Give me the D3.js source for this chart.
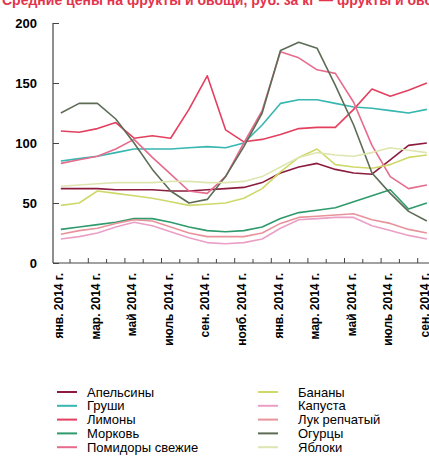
<!DOCTYPE html>
<html><head><meta charset="utf-8">
<script src="https://cdn.jsdelivr.net/npm/d3@7"></script>
<style>body{margin:0;background:#fff;overflow:hidden}svg{display:block}</style>
</head><body>
<script>
const monthLabels = ["янв. 2014 г.","фев. 2014 г.","мар. 2014 г.","апр. 2014 г.","май 2014 г.","июнь 2014 г.","июль 2014 г.","авг. 2014 г.","сен. 2014 г.","окт. 2014 г.","нояб. 2014 г.","дек. 2014 г.","янв. 2014 г.","фев. 2014 г.","мар. 2014 г.","апр. 2014 г.","май 2014 г.","июнь 2014 г.","июль 2014 г.","авг. 2014 г.","сен. 2014 г."];
const yTicks = [0, 50, 100, 150, 200];
const seriesNames = ["Апельсины","Груши","Лимоны","Морковь","Помидоры свежие","Бананы","Капуста","Лук репчатый","Огурцы","Яблоки"];
const colors = ["#8c1c3e","#36b7b0","#e3405f","#2f9a6c","#e66b8c","#cfd86a","#eaa0c6","#e8939b","#5d6d55","#dde6b0"];
const apelsiny = [62,62,62,61,61,61,60,60,61,62,63,67,75,80,83,78,75,74,86,98,100];
const grushi   = [85,87,89,92,95,95,95,96,97,96,100,115,133,136,136,133,130,129,127,125,128];
const limony   = [110,109,112,117,104,106,104,128,156,111,101,103,107,112,113,113,128,145,139,144,150];
const morkov   = [28,30,32,34,37,37,34,30,27,26,27,30,37,42,44,46,51,56,61,45,50];
const pomidory = [83,86,89,95,103,88,74,60,58,72,100,127,176,171,161,158,134,98,72,62,65];
const banany   = [48,50,60,58,56,54,51,48,49,50,54,62,76,88,95,82,80,79,82,88,90];
const kapusta  = [20,22,25,30,34,31,26,21,17,16,17,20,29,36,37,38,38,31,27,23,20];
const luk      = [24,27,29,33,36,35,30,25,22,22,22,25,33,38,39,40,41,36,33,28,25];
const ogurcy   = [125,133,133,120,100,78,60,50,53,72,97,125,177,184,179,148,115,75,58,43,35];
const yabloki  = [64,65,66,67,67,67,68,68,67,67,68,72,80,88,92,90,89,92,96,94,92];
const seriesValues = [apelsiny,grushi,limony,morkov,pomidory,banany,kapusta,luk,ogurcy,yabloki];

const W = 429, H = 465;
const svg = d3.select("body").append("svg").attr("width", W).attr("height", H)
  .style("font-family", "'Liberation Sans', Arial, sans-serif");

const idx = d3.range(monthLabels.length);
const step = 18.3, x0 = 51.7;
const x = d3.scaleBand().domain(idx).range([x0, x0 + step * idx.length]).paddingInner(0).paddingOuter(0);
const y = d3.scaleLinear().domain([0, 200]).range([263, 23]);
const cx = i => x(i) + x.bandwidth() / 2;

// title (cut off at top, as in the reference)
svg.append("text").attr("x", 2).attr("y", 5).attr("fill", "#e3344c")
  .attr("font-size", 14).attr("font-weight", "bold")
  .text("Средние цены на фрукты и овощи, руб. за кг — фрукты и овощи");

// y axis
const yAxis = svg.append("g").attr("transform", "translate(53,0)")
  .call(d3.axisLeft(y).tickValues(yTicks).tickSize(-6).tickPadding(16).tickFormat(d3.format("d")));
yAxis.select(".domain").attr("stroke", "#444").attr("stroke-width", 1.2).attr("d", `M0,${y(200)}V${y(0)}`);
yAxis.selectAll(".tick line").attr("stroke", "#444");
yAxis.selectAll("text").attr("font-size", 13).attr("font-weight", "bold").attr("fill", "#000");

// x axis line
svg.append("line").attr("x1", 53).attr("x2", W).attr("y1", y(0)).attr("y2", y(0))
  .attr("stroke", "#444").attr("stroke-width", 1.2);
// ticks at band boundaries
svg.append("g").selectAll("line").data(idx.slice(1)).join("line")
  .attr("x1", d => x(d)).attr("x2", d => x(d))
  .attr("y1", y(0)).attr("y2", (d) => y(0) - (d % 2 === 0 ? 5 : 4))
  .attr("stroke", "#444");
// labels every 2 months
svg.append("g").selectAll("text").data(idx.filter(i => i % 2 === 0)).join("text")
  .attr("transform", d => `translate(${cx(d) - 2},273) rotate(-90)`)
  .attr("text-anchor", "end").attr("dy", "0.35em")
  .attr("font-size", 12).attr("font-weight", "bold").attr("fill", "#000")
  .text(d => monthLabels[d]);

// lines
const line = d3.line().x((d, i) => cx(i)).y(d => y(d)).curve(d3.curveLinear);
svg.append("g").selectAll("path").data(seriesValues).join("path")
  .attr("d", d => line(d)).attr("fill", "none")
  .attr("stroke", (d, i) => colors[i]).attr("stroke-width", 1.6)
  .attr("stroke-linejoin", "round");

// legend
const lg = svg.append("g");
seriesNames.forEach((name, i) => {
  const col = Math.floor(i / 5), row = i % 5;
  const lx = col === 0 ? 57 : 258, tx = col === 0 ? 87 : 298;
  const ly = 392 + row * 13.8;
  lg.append("line").attr("x1", lx).attr("x2", lx + 20).attr("y1", ly).attr("y2", ly)
    .attr("stroke", colors[i]).attr("stroke-width", 2);
  lg.append("text").attr("x", tx).attr("y", ly).attr("dy", "0.35em")
    .attr("font-size", 13).attr("fill", "#000").text(name);
});
</script>
</body></html>
